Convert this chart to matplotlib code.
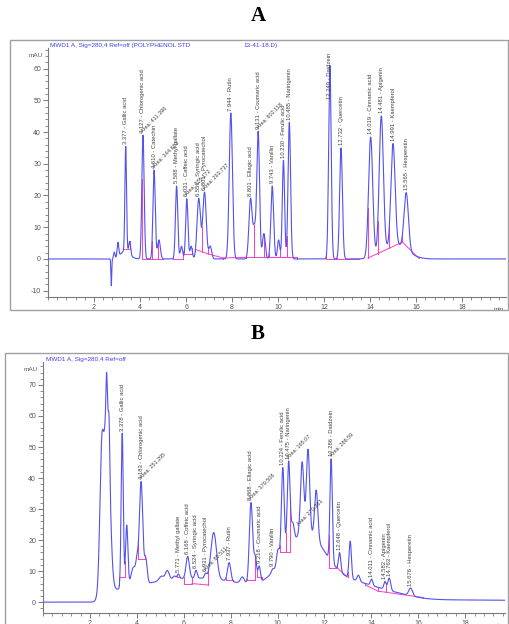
import numpy as np
import matplotlib
matplotlib.use("Agg")
import matplotlib.pyplot as plt
from matplotlib.patches import Rectangle
from matplotlib.ticker import MultipleLocator

plt.rcParams['font.family'] = ['Liberation Sans', 'DejaVu Sans']
plt.rcParams['axes.unicode_minus'] = False

TRACE = "#5252ec"
PINK = "#ff3cc8"
HEAD = "#4040f4"
GREY = "#7a7a7a"

# ---------------- panel A : polyphenol standard ----------------
a_rt = [3.377, 4.127, 4.610, 5.588, 6.031, 6.551, 6.801, 7.944, 8.801, 9.131,
        9.743, 10.230, 10.485, 12.249, 12.732, 14.019, 14.481, 14.991, 15.565]
a_name = ["Gallic acid", "Chlorogenic acid", "Catechin", "Methyl gallate", "Caffeic acid",
          "Syringic acid", "Pyrocatechol", "Rutin", "Ellagic acid", "Coumaric acid",
          "Vanillin", "Ferulic acid", "Naringenin", "Daidzein", "Quercetin",
          "Cinnamic acid", "Apigenin", "Kaempferol", "Hesperetin"]
a_height = [33, 39, 28, 23, 19, 19, 21, 46, 19, 40, 23, 31, 43, 61, 35, 38, 43, 32, 18]
a_width = [0.035, 0.05, 0.05, 0.05, 0.05, 0.075, 0.075, 0.07, 0.07, 0.06,
           0.06, 0.05, 0.055, 0.055, 0.06, 0.09, 0.09, 0.09, 0.095]
# unnamed small peaks / shoulders / system dip
a_minor_rt = [2.75, 2.88, 3.04, 3.55, 4.82, 5.80, 6.22, 7.05, 8.97, 9.38, 10.02]
a_minor_h = [-8.5, 2, 4.5, 4, 6, 4, 4, 4, 9, 8, 6]
a_minor_w = [0.018, 0.03, 0.035, 0.04, 0.06, 0.05, 0.05, 0.06, 0.06, 0.06, 0.05]
# slow baseline humps
a_broad_rt = [3.35, 15.1]
a_broad_h = [2.5, 4.5]
a_broad_w = [0.2, 0.5]
# integration baselines (start, end, level at start, level at end)
a_int_start = [3.28, 4.08, 4.35, 4.52, 4.80, 5.45, 5.85, 6.40, 6.68, 6.95, 7.60, 8.60, 8.93, 9.39, 9.61, 10.10, 10.38, 12.10, 12.55, 13.90, 14.33, 14.83]
a_int_end = [3.55, 4.35, 4.52, 4.80, 5.00, 5.85, 6.25, 6.68, 6.95, 7.60, 8.60, 8.93, 9.39, 9.61, 10.10, 10.38, 10.80, 12.55, 13.50, 14.33, 14.83, 15.40]
a_int_b0 = [3, 0, 0, 0, 0, 0, 1.5, 3, 2.3, 1.6, 0.3, 0.5, 0.5, 0.5, 0.5, 0.5, 0.5, 0, 0, 0.3, 1.7, 3.4]
a_int_b1 = [3, 0, 0, 0, 0, 0, 1.5, 2.3, 1.6, 0.3, 0.5, 0.5, 0.5, 0.5, 0.5, 0.5, 0.5, 0, 0, 1.7, 3.4, 5.3]
a_tail_start, a_tail_end, a_tail_b0, a_tail_b1 = 15.40, 16.10, 5.3, 0.3
a_area_rt = [4.127, 4.610, 6.031, 6.801, 9.131]
a_area_txt = ["Area: 411.396", "Area: 344.692", "Area: 205.172", "Area: 293.737", "Area: 602.118"]

# ---------------- panel B : sample extract ----------------
b_rt = [3.378, 4.183, 5.771, 6.168, 6.524, 6.931, 7.937, 8.868, 9.218, 9.790,
        10.224, 10.475, 12.286, 12.648, 14.011, 14.582, 14.763, 15.676]
b_name = ["Gallic acid", "Chlorogenic acid", "Methyl gallate", "Coffeic acid", "Syringic acid",
          "Pyrocatechol", "Rutin", "Ellagic acid", "Coumaric acid", "Vanillin",
          "Ferulic acid", "Naringenin", "Daidzein", "Quercetin", "Cinnamic acid",
          "Apigenin", "Kaempferol", "Hesperetin"]
b_height = [50, 33, 1.5, 7, 2.5, 1.5, 6, 26, 5, 1, 29, 28, 33, 6, 2, 2.5, 4, 2.5]
b_width = [0.045, 0.07, 0.05, 0.07, 0.05, 0.05, 0.07, 0.07, 0.05, 0.05,
           0.06, 0.06, 0.05, 0.05, 0.05, 0.05, 0.06, 0.08]
b_minor_rt = [2.50, 2.73, 2.71, 2.82, 3.57, 3.85, 4.02, 4.38, 5.05, 5.30, 5.60, 7.28, 8.50,
              9.05, 10.02, 10.65, 11.05, 11.30, 11.65, 13.10, 13.45]
b_minor_h = [40, 60, 10, 10, 20, 6, 7, 8, 1.5, 3, 1, 15, 2, 8, 5, 6, 23, 27, 16, 12, 2]
b_minor_w = [0.08, 0.12, 0.025, 0.025, 0.05, 0.1, 0.06, 0.06, 0.1, 0.08, 0.06, 0.12, 0.08,
             0.06, 0.06, 0.06, 0.07, 0.07, 0.07, 0.05, 0.06]
b_broad_rt = [6.5, 11.2, 13.4, 15.0]
b_broad_h = [6.5, 20, 4.5, 1.5]
b_broad_w = [2.5, 0.9, 0.9, 0.8]
b_plateau = [1.5, 0.6]     # level just after the solvent front, level at 20 min
b_front = 2.3              # solvent front (min)
b_int_start = [3.25, 4.07, 5.70, 6.00, 6.35, 7.80, 8.70, 9.12, 10.10, 10.35, 12.20, 12.55, 13.75, 14.30, 14.62]
b_int_end = [3.50, 4.33, 5.85, 6.35, 7.05, 8.10, 9.05, 9.32, 10.35, 10.55, 12.55, 13.00, 14.30, 14.62, 15.25]
b_int_b0 = [8, 14, 8, 6, 6, 7, 7, 8, 16, 16, 11, 11, 5.5, 3.5, 3.2]
b_int_b1 = [8, 14, 8, 6, 5.5, 7, 7, 8, 16, 16, 11, 8, 3.5, 3.2, 2.5]
b_tail_start, b_tail_end, b_tail_b0, b_tail_b1 = 15.25, 16.20, 2.5, 1.5
b_area_rt = [4.183, 6.931, 8.868, 10.475, 10.9, 12.286]
b_area_txt = ["Area: 251.295", "Area: 85.511", "Area: 379.508", "Area: 165.07", "Area: 270.363", "Area: 286.59"]

t = np.linspace(0, 20, 8001)


def gauss_sum(rts, hs, ws):
    out = np.zeros_like(t)
    for r, h, w in zip(rts, hs, ws):
        out += h * np.exp(-0.5 * ((t - r) / w) ** 2)
    return out


def draw_panel(fig, ax, y, xmax, ylim, rts, names, areas_rt, areas_txt,
               istart, iend, ib0, ib1, tail):
    ax.set_xlim(0, xmax)
    ax.set_ylim(*ylim)
    ax.plot(t, y, color=TRACE, lw=0.8, zorder=3)
    # integration baselines and drop lines
    for s, e, b0, b1 in list(zip(istart, iend, ib0, ib1)) + [tail]:
        ax.plot([s, e], [b0, b1], color=PINK, lw=0.7, zorder=2)
        for x, b in ((s, b0), (e, b1)):
            ax.plot([x, x], [b, np.interp(x, t, y)], color=PINK, lw=0.7, zorder=2)
    renderer = fig.canvas.get_renderer()
    px_per_unit = ax.bbox.height / (ylim[1] - ylim[0])
    for r, n in zip(rts, names):
        top = np.interp(r, t, y)
        txt = ax.text(r, top + 0.8, f"{r:.3f} - {n}", rotation=90, ha='center', va='bottom',
                      fontsize=4.2, color="#444444", zorder=4)
        length = txt.get_window_extent(renderer).height / px_per_unit
        if top + 0.8 + length > ylim[1] - 1:
            txt.set_y(ylim[1] - 1.5)
            txt.set_va('top')
    for r, s in zip(areas_rt, areas_txt):
        top = np.interp(r, t, y)
        ax.text(r + 0.05, top + 0.5, s, rotation=45, ha='left', va='bottom',
                fontsize=4.0, color="#444444", zorder=4, rotation_mode='anchor')
    ax.xaxis.set_major_locator(MultipleLocator(2))
    ax.xaxis.set_minor_locator(MultipleLocator(0.4))
    ax.yaxis.set_major_locator(MultipleLocator(10))
    ax.yaxis.set_minor_locator(MultipleLocator(2))
    ax.set_xticks([v for v in range(2, 20, 2)])
    for side in ('top', 'right'):
        ax.spines[side].set_visible(False)
    for side in ('left', 'bottom'):
        ax.spines[side].set_color(GREY)
        ax.spines[side].set_linewidth(0.8)
    ax.tick_params(which='major', length=3.5, width=0.7, color=GREY, labelsize=5,
                   labelcolor="#555555", pad=1.5)
    ax.tick_params(which='minor', length=2, width=0.6, color=GREY)
    ax.text(-0.012, 0.97, "mAU", transform=ax.transAxes, ha='right', va='center',
            fontsize=4.6, color="#555555")
    ax.text(0.995, -0.04, "min", transform=ax.transAxes, ha='right', va='top',
            fontsize=4.6, color="#555555")


fig = plt.figure(figsize=(5.09, 6.24), dpi=100)
W, H = 509.0, 624.0

# outer frames
fig.patches.append(Rectangle((10 / W, 1 - 310 / H), 498 / W, 270 / H, transform=fig.transFigure,
                             fill=False, edgecolor="#a0a0a0", lw=1.0))
fig.patches.append(Rectangle((5 / W, -0.05), 503 / W, 1 - 353 / H + 0.05, transform=fig.transFigure,
                             fill=False, edgecolor="#a0a0a0", lw=1.0))

fig.text(258 / W, 1 - 16 / H, "A", fontsize=15, fontweight='bold', family='Liberation Serif',
         ha='center', va='center')
fig.text(258 / W, 1 - 334 / H, "B", fontsize=15, fontweight='bold', family='Liberation Serif',
         ha='center', va='center')
fig.text(50 / W, 1 - 45 / H, "MWD1 A, Sig=280,4 Ref=off (POLYPHENOL STD", fontsize=4.6,
         color=HEAD, va='center')
fig.text(243 / W, 1 - 45 / H, "13-41-18.D)", fontsize=4.6, color=HEAD, va='center')
fig.text(46 / W, 1 - 359 / H, "MWD1 A, Sig=280,4 Ref=off", fontsize=4.6, color=HEAD, va='center')

# panel A
axA = fig.add_axes([48 / W, 1 - 297 / H, 458 / W, 249 / H])
yA = gauss_sum(a_rt, a_height, a_width) + gauss_sum(a_minor_rt, a_minor_h, a_minor_w) \
    + gauss_sum(a_broad_rt, a_broad_h, a_broad_w)
draw_panel(fig, axA, yA, 19.9, (-12, 66.5), a_rt, a_name, a_area_rt, a_area_txt,
           a_int_start, a_int_end, a_int_b0, a_int_b1,
           (a_tail_start, a_tail_end, a_tail_b0, a_tail_b1))

# panel B
axB = fig.add_axes([43 / W, 1 - 613 / H, 462 / W, 251 / H])
front = 1.0 / (1.0 + np.exp(-(t - b_front) / 0.05))
plateau = front * (b_plateau[0] + (b_plateau[1] - b_plateau[0]) * np.clip(t - b_front, 0, None) / (20 - b_front))
yB = gauss_sum(b_rt, b_height, b_width) + gauss_sum(b_minor_rt, b_minor_h, b_minor_w) \
    + gauss_sum(b_broad_rt, b_broad_h, b_broad_w) * front + plateau
draw_panel(fig, axB, yB, 19.7, (-3.5, 77.4), b_rt, b_name, b_area_rt, b_area_txt,
           b_int_start, b_int_end, b_int_b0, b_int_b1,
           (b_tail_start, b_tail_end, b_tail_b0, b_tail_b1))

fig.savefig("out.png", dpi=100)
